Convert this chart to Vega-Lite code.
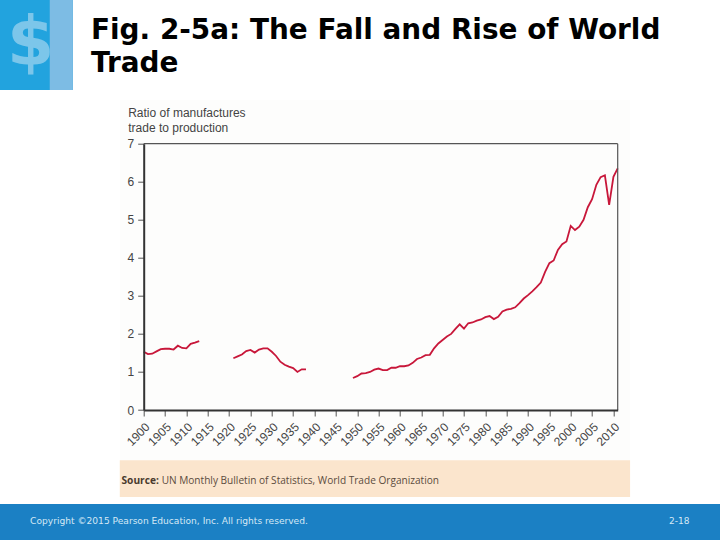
{"$schema":"https://vega.github.io/schema/vega-lite/v6.json","width":474,"height":266.3,"autosize":"none","padding":{"left":143.7,"top":143.7,"right":102.3,"bottom":130},"background":"#ffffff","view":{"stroke":null},
"title":{"text":["Fig. 2-5a: The Fall and Rise of World","Trade"],"anchor":"start","frame":"group","dx":-52.7,"offset":-78,"font":"DejaVu Sans","fontSize":27.9,"fontWeight":"bold","color":"#000000","lineHeight":33},
"data":{"values":[
{"year":1900,"ratio":1.53,"s":"a"},{"year":1901,"ratio":1.47,"s":"a"},{"year":1902,"ratio":1.48,"s":"a"},{"year":1903,"ratio":1.54,"s":"a"},{"year":1904,"ratio":1.6,"s":"a"},{"year":1905,"ratio":1.61,"s":"a"},{"year":1906,"ratio":1.61,"s":"a"},{"year":1907,"ratio":1.59,"s":"a"},{"year":1908,"ratio":1.69,"s":"a"},{"year":1909,"ratio":1.63,"s":"a"},{"year":1910,"ratio":1.62,"s":"a"},{"year":1911,"ratio":1.74,"s":"a"},{"year":1912,"ratio":1.77,"s":"a"},{"year":1913,"ratio":1.81,"s":"a"},
{"year":1921,"ratio":1.36,"s":"b"},{"year":1922,"ratio":1.41,"s":"b"},{"year":1923,"ratio":1.46,"s":"b"},{"year":1924,"ratio":1.55,"s":"b"},{"year":1925,"ratio":1.58,"s":"b"},{"year":1926,"ratio":1.51,"s":"b"},{"year":1927,"ratio":1.59,"s":"b"},{"year":1928,"ratio":1.62,"s":"b"},{"year":1929,"ratio":1.62,"s":"b"},{"year":1930,"ratio":1.53,"s":"b"},{"year":1931,"ratio":1.42,"s":"b"},{"year":1932,"ratio":1.27,"s":"b"},{"year":1933,"ratio":1.19,"s":"b"},{"year":1934,"ratio":1.14,"s":"b"},{"year":1935,"ratio":1.1,"s":"b"},{"year":1936,"ratio":1.0,"s":"b"},{"year":1937,"ratio":1.07,"s":"b"},{"year":1938,"ratio":1.07,"s":"b"},
{"year":1949,"ratio":0.84,"s":"c"},{"year":1950,"ratio":0.89,"s":"c"},{"year":1951,"ratio":0.96,"s":"c"},{"year":1952,"ratio":0.97,"s":"c"},{"year":1953,"ratio":1.0,"s":"c"},{"year":1954,"ratio":1.06,"s":"c"},{"year":1955,"ratio":1.09,"s":"c"},{"year":1956,"ratio":1.05,"s":"c"},{"year":1957,"ratio":1.05,"s":"c"},{"year":1958,"ratio":1.11,"s":"c"},{"year":1959,"ratio":1.11,"s":"c"},{"year":1960,"ratio":1.15,"s":"c"},{"year":1961,"ratio":1.15,"s":"c"},{"year":1962,"ratio":1.17,"s":"c"},{"year":1963,"ratio":1.24,"s":"c"},{"year":1964,"ratio":1.34,"s":"c"},{"year":1965,"ratio":1.38,"s":"c"},{"year":1966,"ratio":1.44,"s":"c"},{"year":1967,"ratio":1.45,"s":"c"},{"year":1968,"ratio":1.62,"s":"c"},{"year":1969,"ratio":1.75,"s":"c"},{"year":1970,"ratio":1.84,"s":"c"},{"year":1971,"ratio":1.93,"s":"c"},{"year":1972,"ratio":2.0,"s":"c"},{"year":1973,"ratio":2.13,"s":"c"},{"year":1974,"ratio":2.25,"s":"c"},{"year":1975,"ratio":2.14,"s":"c"},{"year":1976,"ratio":2.28,"s":"c"},{"year":1977,"ratio":2.3,"s":"c"},{"year":1978,"ratio":2.35,"s":"c"},{"year":1979,"ratio":2.38,"s":"c"},{"year":1980,"ratio":2.44,"s":"c"},{"year":1981,"ratio":2.47,"s":"c"},{"year":1982,"ratio":2.39,"s":"c"},{"year":1983,"ratio":2.45,"s":"c"},{"year":1984,"ratio":2.59,"s":"c"},{"year":1985,"ratio":2.64,"s":"c"},{"year":1986,"ratio":2.66,"s":"c"},{"year":1987,"ratio":2.7,"s":"c"},{"year":1988,"ratio":2.81,"s":"c"},{"year":1989,"ratio":2.93,"s":"c"},{"year":1990,"ratio":3.02,"s":"c"},{"year":1991,"ratio":3.12,"s":"c"},{"year":1992,"ratio":3.23,"s":"c"},{"year":1993,"ratio":3.35,"s":"c"},{"year":1994,"ratio":3.63,"s":"c"},{"year":1995,"ratio":3.86,"s":"c"},{"year":1996,"ratio":3.93,"s":"c"},{"year":1997,"ratio":4.21,"s":"c"},{"year":1998,"ratio":4.36,"s":"c"},{"year":1999,"ratio":4.43,"s":"c"},{"year":2000,"ratio":4.84,"s":"c"},{"year":2001,"ratio":4.73,"s":"c"},{"year":2002,"ratio":4.82,"s":"c"},{"year":2003,"ratio":5.0,"s":"c"},{"year":2004,"ratio":5.33,"s":"c"},{"year":2005,"ratio":5.54,"s":"c"},{"year":2006,"ratio":5.92,"s":"c"},{"year":2007,"ratio":6.12,"s":"c"},{"year":2008,"ratio":6.17,"s":"c"},{"year":2009,"ratio":5.39,"s":"c"},{"year":2010,"ratio":6.13,"s":"c"},{"year":2011,"ratio":6.35,"s":"c"}
]},
"layer":[
{"data":{"values":[{}]},"mark":{"type":"rect","color":"#fdfdfc"},"encoding":{"x":{"datum":1894.4,"type":"quantitative","scale":{"domain":[1900,2011],"nice":false,"zero":false},"axis":{"title":null,"tickCount":23,"format":"d","labelAngle":-45,"labelAlign":"right","labelBaseline":"top","labelFont":"Liberation Sans","labelFontSize":12,"labelColor":"#444444","labelOverlap":false,"labelPadding":5,"grid":false,"domainColor":"#333333","domainWidth":2,"tickColor":"#555555","tickSize":6,"zindex":1}},"x2":{"datum":2013.9},"y":{"datum":8.15,"type":"quantitative","scale":{"domain":[0,7],"nice":false},"axis":{"title":["Ratio of manufactures","trade to production"],"titleAngle":0,"titleX":-16,"titleY":-24,"titleAlign":"left","titleBaseline":"bottom","titleFont":"Liberation Sans","titleFontSize":12,"titleFontWeight":"normal","titleColor":"#444444","titleLineHeight":14.5,"tickCount":7,"labelFont":"Liberation Sans","labelFontSize":12,"labelColor":"#444444","labelPadding":4,"grid":false,"domainColor":"#333333","domainWidth":2,"tickColor":"#555555","tickSize":6,"zindex":1}},"y2":{"datum":-1.32}}},
{"data":{"values":[{}]},"mark":{"type":"rect","color":"#fbe5cd"},"encoding":{"x":{"datum":1894.4,"type":"quantitative"},"x2":{"datum":2013.9},"y":{"datum":-1.32,"type":"quantitative"},"y2":{"datum":-2.29}}},
{"data":{"values":[{}]},"mark":{"type":"rect","color":"#1b80c4"},"encoding":{"x":{"datum":1866.3,"type":"quantitative"},"x2":{"datum":2035},"y":{"datum":-2.47,"type":"quantitative"},"y2":{"datum":-3.42}}},
{"data":{"values":[{}]},"mark":{"type":"rect","color":"#22a3de"},"encoding":{"x":{"datum":1866.3,"type":"quantitative"},"x2":{"datum":1883.4},"y":{"datum":10.78,"type":"quantitative"},"y2":{"datum":8.41}}},
{"data":{"values":[{}]},"mark":{"type":"rect","color":"#7dbce4"},"encoding":{"x":{"datum":1878,"type":"quantitative"},"x2":{"datum":1883.4},"y":{"datum":10.78,"type":"quantitative"},"y2":{"datum":8.41}}},
{"data":{"values":[{}]},"mark":{"type":"text","text":"$","font":"DejaVu Sans","fontWeight":"bold","fontSize":68,"color":"#7cc6ea","align":"center","baseline":"middle"},"encoding":{"x":{"datum":1873.5,"type":"quantitative"},"y":{"datum":9.6,"type":"quantitative"}}},
{"mark":{"type":"line","color":"#c8173a","strokeWidth":1.8,"clip":false},"encoding":{
"x":{"field":"year","type":"quantitative"},
"y":{"field":"ratio","type":"quantitative"},
"detail":{"field":"s"}}},
{"data":{"values":[{}]},"mark":{"type":"rule","color":"#555555","strokeWidth":1.2},"encoding":{"x":{"datum":2011,"type":"quantitative"},"y":{"datum":0,"type":"quantitative"},"y2":{"datum":7}}},
{"data":{"values":[{}]},"mark":{"type":"rule","color":"#555555","strokeWidth":1.2},"encoding":{"x":{"datum":1900,"type":"quantitative"},"x2":{"datum":2011},"y":{"datum":7,"type":"quantitative"}}},
{"data":{"values":[{}]},"mark":{"type":"text","text":"Source:","font":"Open Sans","fontWeight":"bold","fontSize":10.2,"color":"#4a3b2e","align":"left","baseline":"middle"},"encoding":{"x":{"datum":1894.8,"type":"quantitative"},"y":{"datum":-1.866,"type":"quantitative"}}},
{"data":{"values":[{}]},"mark":{"type":"text","text":"UN Monthly Bulletin of Statistics, World Trade Organization","font":"Open Sans","fontSize":10.1,"color":"#5b4c3e","align":"left","baseline":"middle"},"encoding":{"x":{"datum":1904.2,"type":"quantitative"},"y":{"datum":-1.866,"type":"quantitative"}}},
{"data":{"values":[{}]},"mark":{"type":"text","text":"Copyright ©2015 Pearson Education, Inc. All rights reserved.","font":"DejaVu Sans","fontSize":9.1,"color":"#d5e8f5","align":"left","baseline":"middle"},"encoding":{"x":{"datum":1873.4,"type":"quantitative"},"y":{"datum":-2.92,"type":"quantitative"}}},
{"data":{"values":[{}]},"mark":{"type":"text","text":"2-18","font":"DejaVu Sans","fontSize":9,"color":"#d5e8f5","align":"right","baseline":"middle"},"encoding":{"x":{"datum":2027.8,"type":"quantitative"},"y":{"datum":-2.92,"type":"quantitative"}}}
]}
